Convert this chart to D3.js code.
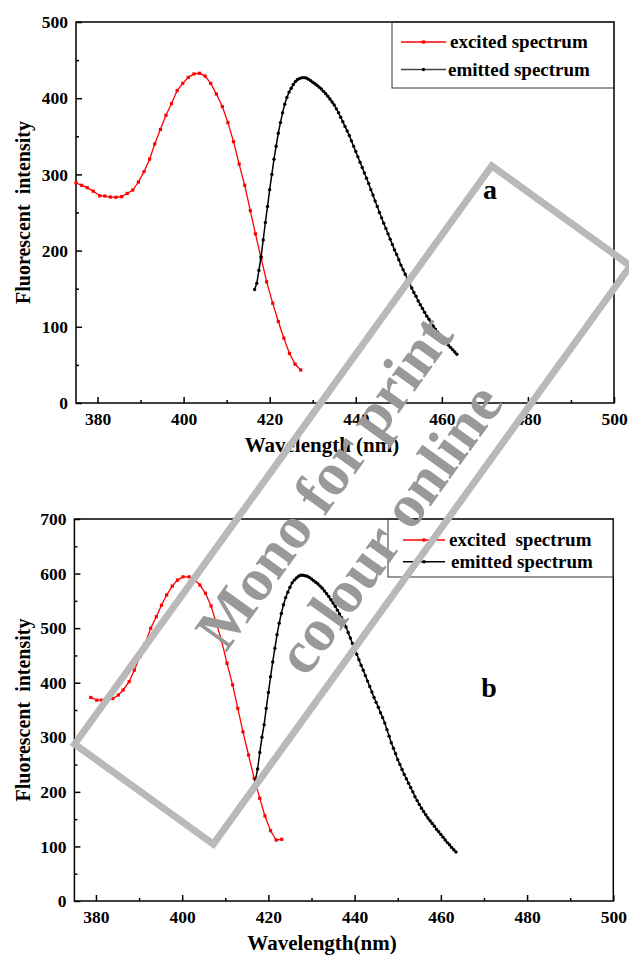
<!DOCTYPE html>
<html lang="en">
<head>
  <meta charset="UTF-8">
  <title>Fluorescent spectra</title>
  <script src="https://d3js.org/d3.v7.min.js"></script>
  <style>
    body { margin: 0; background: #fff; }
    svg text { font-family: "Liberation Serif", "Times New Roman", serif; font-weight: bold; fill: #000; }
    .axis line { stroke: #000; stroke-width: 1.5px; }
    .axis path { display: none; }
    .axis text { font-size: 17.5px; }
  </style>
</head>
<body>
<svg></svg>
<script>
  // panel a : excitation (red) and emission (black) spectra
  const excitedA_x = [375, 376.3, 377.6, 379, 380.5, 381.7, 383, 384.3, 385.6, 386.9, 388.2, 389.5, 390.8, 392.1, 393.3, 394.6, 395.9, 397.2, 398.5, 399.8, 401.1, 402.4, 403.7, 405, 406.3, 407.6, 409, 410.3, 411.6, 412.9, 414.2, 415.5, 416.7, 418, 419.3, 420.7, 422, 423.3, 424.6, 425.9, 427.2];
  const excitedA_y = [289, 285.7, 282.6, 278, 272, 271.6, 270.3, 270, 270.8, 275, 279.5, 290, 303.6, 320, 340, 359, 377.5, 393, 410, 419.5, 427.4, 431.8, 432.7, 429, 419.5, 405.5, 389, 368, 343, 313.6, 285.7, 252.4, 222, 190, 159, 131, 107, 85, 65, 51, 43.3];
  const emittedA_start = 416.5, emittedA_step = 0.5;
  const emittedA_y = [149, 157, 174, 192, 214, 237, 258, 280, 300, 320, 337, 354, 368, 381, 392, 401, 408, 413, 418, 422, 424.5, 426, 427, 427, 426.5, 425, 423, 421, 419, 417, 414.5, 412, 409, 406, 402.5, 399, 395, 391, 386, 381, 375, 369, 363, 357, 351, 344, 337, 330, 323, 316, 309, 302, 295, 288, 280, 273, 265, 258, 250, 243, 236, 229, 222, 215, 208, 201, 195, 188, 181, 175, 169, 163, 157, 151, 145, 140, 134, 129, 124, 119, 114, 110, 105, 101, 97, 93, 90, 86, 83, 79, 76, 73, 70, 67, 64];

  // panel b
  const excitedB_x = [378.8, 380.2, 381.3, 382.6, 383.9, 385.2, 386.3, 387.7, 388.9, 390.2, 391.4, 392.7, 394, 395.2, 396.4, 397.7, 398.9, 400.2, 401.6, 402.8, 404.1, 405.4, 406.7, 407.8, 409.1, 410.4, 411.7, 412.9, 414.1, 415.4, 416.7, 418, 419.2, 420.5, 421.8, 423.1];
  const excitedB_y = [373, 368, 368, 369.6, 371, 377.5, 386.7, 402, 423, 447.7, 472, 499.7, 521, 542, 560.7, 577, 588, 594, 594, 590, 579, 564, 540.6, 512, 478, 435.6, 396, 353, 310, 267.5, 224.8, 188, 155.8, 128.8, 111.8, 113];
  const emittedB_start = 416.5, emittedB_step = 0.5;
  const emittedB_y = [208, 222, 242, 272, 300, 323, 353, 382, 411, 438, 463, 488, 509, 527, 543, 556, 566, 575, 583, 588, 592, 595, 597, 597, 596, 595, 593, 590, 587, 584, 581, 577, 573, 568, 563, 558, 552, 546, 540, 533, 526, 519, 511, 502, 492, 482, 472, 462, 452, 442, 432, 423, 413, 403, 393, 383, 373, 364, 355, 345, 336, 326, 314, 302, 290, 280, 270, 259, 250, 241, 232, 224, 216, 208, 200, 191, 184, 177, 170, 164, 158, 152, 147, 142, 137, 131, 127, 122, 117, 112, 107, 103, 98, 94, 90];

  const xMajor = [380, 400, 420, 440, 460, 480, 500];
  const xMinor = [390, 410, 430, 450, 470, 490];
  const legendA = ["excited spectrum", "emitted spectrum"];
  const legendB = ["excited  spectrum", "emitted spectrum"];

  const width = 629, height = 957;
  const svg = d3.select("svg").attr("width", width).attr("height", height);

  function panel(p) {
    const x = d3.scaleLinear().domain([375, 500]).range([p.left, p.right]);
    const y = d3.scaleLinear().domain([0, p.ymax]).range([p.bottom, p.top]);
    const g = svg.append("g");

    g.append("g").attr("class", "axis").attr("transform", `translate(0,${p.bottom})`)
      .call(d3.axisBottom(x).tickValues(xMajor).tickSize(-6).tickPadding(10));
    g.append("g").attr("class", "axis").attr("transform", `translate(0,${p.bottom})`)
      .call(d3.axisBottom(x).tickValues(xMinor).tickSize(-3).tickFormat(""));
    g.append("g").attr("class", "axis").attr("transform", `translate(${p.left},0)`)
      .call(d3.axisLeft(y).tickValues(d3.range(0, p.ymax + 1, 100)).tickSize(-6).tickPadding(8));
    g.append("g").attr("class", "axis").attr("transform", `translate(${p.left},0)`)
      .call(d3.axisLeft(y).tickValues(d3.range(50, p.ymax, 100)).tickSize(-3).tickFormat(""));

    g.append("rect").attr("x", p.left).attr("y", p.top)
      .attr("width", p.right - p.left).attr("height", p.bottom - p.top)
      .attr("fill", "none").attr("stroke", "#000").attr("stroke-width", 1.5);

    const line = d3.line().x(d => x(d[0])).y(d => y(d[1]));
    const ex = p.exX.map((v, i) => [v, p.exY[i]]);
    const em = p.emY.map((v, i) => [p.emStart + i * p.emStep, v]);

    g.append("path").datum(ex).attr("d", line).attr("fill", "none").attr("stroke", "#f00").attr("stroke-width", 1.3);
    g.selectAll(".sq").data(ex).enter().append("rect")
      .attr("x", d => x(d[0]) - 1.6).attr("y", d => y(d[1]) - 1.6)
      .attr("width", 3.2).attr("height", 3.2).attr("fill", "#f00");
    g.append("path").datum(em).attr("d", line).attr("fill", "none").attr("stroke", "#000").attr("stroke-width", 1.5);
    g.selectAll(".dot").data(em).enter().append("circle")
      .attr("cx", d => x(d[0])).attr("cy", d => y(d[1])).attr("r", 1.7).attr("fill", "#000");

    // legend
    const L = p.legend;
    g.append("rect").attr("x", L.x).attr("y", p.top).attr("width", p.right - L.x).attr("height", L.h)
      .attr("fill", "none").attr("stroke", "#333").attr("stroke-width", 1);
    L.rows.forEach((r, i) => {
      const cy = p.top + L.y0 + i * L.dy;
      g.append("line").attr("x1", L.lx1).attr("x2", L.lx2).attr("y1", cy).attr("y2", cy)
        .attr("stroke", i === 0 ? "#f00" : p.emLegendColor).attr("stroke-width", 1.5);
      if (i === 0) g.append("rect").attr("x", (L.lx1 + L.lx2) / 2 - 1.6).attr("y", cy - 1.6).attr("width", 3.2).attr("height", 3.2).attr("fill", "#f00");
      else g.append("circle").attr("cx", (L.lx1 + L.lx2) / 2).attr("cy", cy).attr("r", 1.7).attr("fill", "#000");
      g.append("text").attr("x", L.tx + (i === 0 ? 0 : L.tx2)).attr("y", cy + 6)
        .style("font-size", "19px").style("white-space", "pre").text(r);
    });

    g.append("text").attr("x", p.tagX).attr("y", p.tagY).attr("text-anchor", "middle")
      .style("font-size", "28px").text(p.tag);

    g.append("text").attr("transform", `translate(30,${(p.top + p.bottom) / 2}) rotate(-90)`)
      .attr("text-anchor", "middle").style("font-size", "20px").style("white-space", "pre")
      .text("Fluorescent  intensity");
    g.append("text").attr("x", 322).attr("y", p.bottom + 49).attr("text-anchor", "middle")
      .style("font-size", "21px").text(p.xTitle);
  }

  panel({ left: 76, right: 614, top: 22, bottom: 403, ymax: 500,
    exX: excitedA_x, exY: excitedA_y, emStart: emittedA_start, emStep: emittedA_step, emY: emittedA_y,
    emLegendColor: "#444",
    legend: { x: 392, h: 66, y0: 20, dy: 27.5, lx1: 401, lx2: 446, tx: 450, tx2: -2, rows: legendA },
    tag: "a", tagX: 490, tagY: 199, xTitle: "Wavelength (nm)" });

  panel({ left: 74.4, right: 613.3, top: 519, bottom: 901, ymax: 700,
    exX: excitedB_x, exY: excitedB_y, emStart: emittedB_start, emStep: emittedB_step, emY: emittedB_y,
    emLegendColor: "#000",
    legend: { x: 388, h: 58, y0: 21, dy: 21.7, lx1: 403, lx2: 445, tx: 449, tx2: 2, rows: legendB },
    tag: "b", tagX: 489, tagY: 697, xTitle: "Wavelength(nm)" });

  // watermark on top
  const wm = svg.append("g").attr("transform", "translate(352.5,505) rotate(-54.2)");
  wm.append("rect").attr("x", -356.5).attr("y", -85.5).attr("width", 713).attr("height", 171)
    .attr("fill", "none").attr("stroke", "#b9b9b9").attr("stroke-width", 7);
  wm.append("text").attr("x", 2).attr("y", -16).attr("text-anchor", "middle")
    .style("font-size", "61px").style("fill", "#999").style("white-space", "pre").text("Mono for print");
  wm.append("text").attr("x", 2).attr("y", 64).attr("text-anchor", "middle")
    .style("font-size", "61px").style("fill", "#999").text("colour online");
</script>
</body>
</html>
